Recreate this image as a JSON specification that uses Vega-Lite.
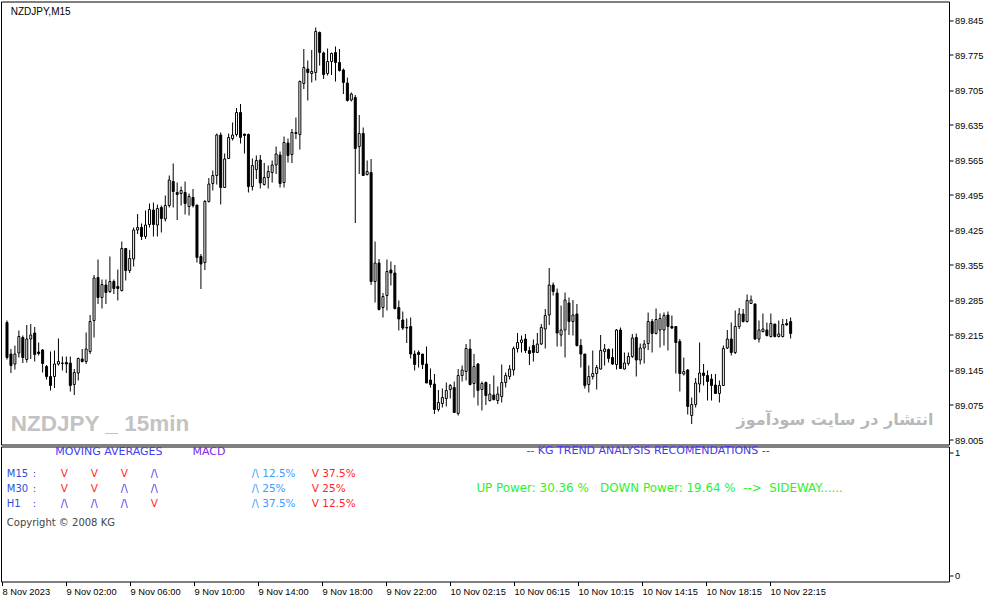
{
  "$schema": "https://vega.github.io/schema/vega-lite/v6.json",
  "background": "white",
  "padding": {"left": 0, "top": 0.5, "right": 0, "bottom": 0},
  "spacing": 2,
  "bounds": "flush",
  "config": {
    "view": {"stroke": "black", "strokeWidth": 1},
    "axis": {
      "labelFont": "Liberation Sans",
      "labelFontSize": 9.3,
      "labelColor": "black",
      "tickColor": "black",
      "tickSize": 4,
      "labelPadding": 1.5,
      "labelOverlap": false,
      "domain": false,
      "grid": false
    },
    "text": {"font": "DejaVu Sans"}
  },
  "datasets": {
    "candles": [
      {"i":0,"o":89.240,"h":89.244,"l":89.166,"c":89.170},
      {"i":1,"o":89.177,"h":89.187,"l":89.139,"c":89.154},
      {"i":2,"o":89.157,"h":89.194,"l":89.146,"c":89.177},
      {"i":3,"o":89.179,"h":89.224,"l":89.170,"c":89.212},
      {"i":4,"o":89.210,"h":89.214,"l":89.159,"c":89.170},
      {"i":5,"o":89.166,"h":89.235,"l":89.160,"c":89.207},
      {"i":6,"o":89.207,"h":89.237,"l":89.167,"c":89.215},
      {"i":7,"o":89.219,"h":89.231,"l":89.162,"c":89.176},
      {"i":8,"o":89.181,"h":89.200,"l":89.174,"c":89.178},
      {"i":9,"o":89.185,"h":89.187,"l":89.140,"c":89.158},
      {"i":10,"o":89.152,"h":89.155,"l":89.126,"c":89.132},
      {"i":11,"o":89.132,"h":89.182,"l":89.104,"c":89.114},
      {"i":12,"o":89.132,"h":89.184,"l":89.109,"c":89.157},
      {"i":13,"o":89.157,"h":89.208,"l":89.154,"c":89.162},
      {"i":14,"o":89.158,"h":89.172,"l":89.144,"c":89.159},
      {"i":15,"o":89.160,"h":89.172,"l":89.139,"c":89.157},
      {"i":16,"o":89.159,"h":89.172,"l":89.102,"c":89.114},
      {"i":17,"o":89.116,"h":89.147,"l":89.095,"c":89.140},
      {"i":18,"o":89.139,"h":89.170,"l":89.124,"c":89.168},
      {"i":19,"o":89.167,"h":89.187,"l":89.160,"c":89.162},
      {"i":20,"o":89.162,"h":89.220,"l":89.157,"c":89.187},
      {"i":21,"o":89.182,"h":89.255,"l":89.177,"c":89.242},
      {"i":22,"o":89.244,"h":89.335,"l":89.210,"c":89.329},
      {"i":23,"o":89.330,"h":89.366,"l":89.277,"c":89.290},
      {"i":24,"o":89.290,"h":89.326,"l":89.268,"c":89.316},
      {"i":25,"o":89.315,"h":89.326,"l":89.277,"c":89.300},
      {"i":26,"o":89.302,"h":89.372,"l":89.299,"c":89.322},
      {"i":27,"o":89.322,"h":89.326,"l":89.297,"c":89.308},
      {"i":28,"o":89.312,"h":89.346,"l":89.284,"c":89.308},
      {"i":29,"o":89.304,"h":89.402,"l":89.302,"c":89.388},
      {"i":30,"o":89.388,"h":89.388,"l":89.324,"c":89.344},
      {"i":31,"o":89.344,"h":89.385,"l":89.339,"c":89.368},
      {"i":32,"o":89.367,"h":89.430,"l":89.352,"c":89.425},
      {"i":33,"o":89.425,"h":89.457,"l":89.417,"c":89.430},
      {"i":34,"o":89.430,"h":89.438,"l":89.405,"c":89.412},
      {"i":35,"o":89.412,"h":89.464,"l":89.407,"c":89.435},
      {"i":36,"o":89.436,"h":89.478,"l":89.430,"c":89.466},
      {"i":37,"o":89.465,"h":89.480,"l":89.412,"c":89.436},
      {"i":38,"o":89.435,"h":89.476,"l":89.412,"c":89.468},
      {"i":39,"o":89.470,"h":89.474,"l":89.420,"c":89.448},
      {"i":40,"o":89.447,"h":89.494,"l":89.442,"c":89.474},
      {"i":41,"o":89.474,"h":89.534,"l":89.470,"c":89.525},
      {"i":42,"o":89.522,"h":89.558,"l":89.470,"c":89.502},
      {"i":43,"o":89.500,"h":89.520,"l":89.445,"c":89.496},
      {"i":44,"o":89.498,"h":89.512,"l":89.474,"c":89.504},
      {"i":45,"o":89.500,"h":89.522,"l":89.456,"c":89.478},
      {"i":46,"o":89.472,"h":89.498,"l":89.454,"c":89.492},
      {"i":47,"o":89.490,"h":89.507,"l":89.470,"c":89.474},
      {"i":48,"o":89.475,"h":89.475,"l":89.360,"c":89.370},
      {"i":49,"o":89.372,"h":89.377,"l":89.307,"c":89.357},
      {"i":50,"o":89.360,"h":89.485,"l":89.345,"c":89.482},
      {"i":51,"o":89.482,"h":89.529,"l":89.480,"c":89.517},
      {"i":52,"o":89.518,"h":89.544,"l":89.504,"c":89.534},
      {"i":53,"o":89.534,"h":89.618,"l":89.516,"c":89.615},
      {"i":54,"o":89.615,"h":89.620,"l":89.476,"c":89.510},
      {"i":55,"o":89.510,"h":89.578,"l":89.509,"c":89.567},
      {"i":56,"o":89.568,"h":89.618,"l":89.567,"c":89.610},
      {"i":57,"o":89.608,"h":89.640,"l":89.604,"c":89.615},
      {"i":58,"o":89.616,"h":89.669,"l":89.612,"c":89.660},
      {"i":59,"o":89.660,"h":89.677,"l":89.598,"c":89.610},
      {"i":60,"o":89.617,"h":89.617,"l":89.578,"c":89.614},
      {"i":61,"o":89.616,"h":89.618,"l":89.500,"c":89.512},
      {"i":62,"o":89.512,"h":89.568,"l":89.504,"c":89.554},
      {"i":63,"o":89.546,"h":89.574,"l":89.527,"c":89.564},
      {"i":64,"o":89.565,"h":89.575,"l":89.508,"c":89.519},
      {"i":65,"o":89.516,"h":89.559,"l":89.514,"c":89.530},
      {"i":66,"o":89.530,"h":89.554,"l":89.508,"c":89.542},
      {"i":67,"o":89.540,"h":89.564,"l":89.520,"c":89.555},
      {"i":68,"o":89.555,"h":89.592,"l":89.537,"c":89.577},
      {"i":69,"o":89.575,"h":89.582,"l":89.510,"c":89.518},
      {"i":70,"o":89.520,"h":89.612,"l":89.510,"c":89.600},
      {"i":71,"o":89.599,"h":89.608,"l":89.560,"c":89.574},
      {"i":72,"o":89.576,"h":89.627,"l":89.559,"c":89.620},
      {"i":73,"o":89.620,"h":89.650,"l":89.607,"c":89.618},
      {"i":74,"o":89.616,"h":89.724,"l":89.586,"c":89.722},
      {"i":75,"o":89.718,"h":89.787,"l":89.707,"c":89.750},
      {"i":76,"o":89.747,"h":89.764,"l":89.684,"c":89.740},
      {"i":77,"o":89.738,"h":89.785,"l":89.720,"c":89.742},
      {"i":78,"o":89.740,"h":89.830,"l":89.724,"c":89.822},
      {"i":79,"o":89.820,"h":89.822,"l":89.754,"c":89.780},
      {"i":80,"o":89.779,"h":89.782,"l":89.727,"c":89.736},
      {"i":81,"o":89.738,"h":89.788,"l":89.734,"c":89.762},
      {"i":82,"o":89.762,"h":89.780,"l":89.735,"c":89.778},
      {"i":83,"o":89.780,"h":89.792,"l":89.722,"c":89.760},
      {"i":84,"o":89.760,"h":89.787,"l":89.742,"c":89.744},
      {"i":85,"o":89.745,"h":89.748,"l":89.697,"c":89.720},
      {"i":86,"o":89.719,"h":89.730,"l":89.682,"c":89.684},
      {"i":87,"o":89.685,"h":89.700,"l":89.682,"c":89.697},
      {"i":88,"o":89.690,"h":89.695,"l":89.439,"c":89.588},
      {"i":89,"o":89.592,"h":89.655,"l":89.537,"c":89.618},
      {"i":90,"o":89.618,"h":89.630,"l":89.534,"c":89.534},
      {"i":91,"o":89.536,"h":89.564,"l":89.534,"c":89.542},
      {"i":92,"o":89.540,"h":89.567,"l":89.315,"c":89.322},
      {"i":93,"o":89.322,"h":89.402,"l":89.280,"c":89.359},
      {"i":94,"o":89.359,"h":89.367,"l":89.264,"c":89.266},
      {"i":95,"o":89.270,"h":89.299,"l":89.250,"c":89.292},
      {"i":96,"o":89.294,"h":89.366,"l":89.264,"c":89.342},
      {"i":97,"o":89.345,"h":89.362,"l":89.314,"c":89.339},
      {"i":98,"o":89.339,"h":89.355,"l":89.266,"c":89.268},
      {"i":99,"o":89.270,"h":89.284,"l":89.224,"c":89.247},
      {"i":100,"o":89.245,"h":89.262,"l":89.225,"c":89.229},
      {"i":101,"o":89.230,"h":89.248,"l":89.199,"c":89.229},
      {"i":102,"o":89.232,"h":89.250,"l":89.168,"c":89.177},
      {"i":103,"o":89.177,"h":89.184,"l":89.144,"c":89.156},
      {"i":104,"o":89.180,"h":89.184,"l":89.150,"c":89.176},
      {"i":105,"o":89.177,"h":89.177,"l":89.147,"c":89.156},
      {"i":106,"o":89.157,"h":89.192,"l":89.119,"c":89.119},
      {"i":107,"o":89.125,"h":89.148,"l":89.110,"c":89.116},
      {"i":108,"o":89.117,"h":89.137,"l":89.057,"c":89.066},
      {"i":109,"o":89.066,"h":89.105,"l":89.062,"c":89.080},
      {"i":110,"o":89.078,"h":89.108,"l":89.070,"c":89.090},
      {"i":111,"o":89.088,"h":89.120,"l":89.072,"c":89.104},
      {"i":112,"o":89.106,"h":89.117,"l":89.088,"c":89.114},
      {"i":113,"o":89.110,"h":89.122,"l":89.060,"c":89.060},
      {"i":114,"o":89.058,"h":89.147,"l":89.054,"c":89.134},
      {"i":115,"o":89.134,"h":89.154,"l":89.122,"c":89.145},
      {"i":116,"o":89.142,"h":89.197,"l":89.124,"c":89.188},
      {"i":117,"o":89.187,"h":89.207,"l":89.114,"c":89.116},
      {"i":118,"o":89.118,"h":89.177,"l":89.090,"c":89.152},
      {"i":119,"o":89.157,"h":89.159,"l":89.074,"c":89.104},
      {"i":120,"o":89.106,"h":89.122,"l":89.064,"c":89.118},
      {"i":121,"o":89.120,"h":89.122,"l":89.075,"c":89.094},
      {"i":122,"o":89.084,"h":89.117,"l":89.082,"c":89.097},
      {"i":123,"o":89.095,"h":89.134,"l":89.084,"c":89.086},
      {"i":124,"o":89.084,"h":89.112,"l":89.077,"c":89.097},
      {"i":125,"o":89.092,"h":89.156,"l":89.080,"c":89.120},
      {"i":126,"o":89.120,"h":89.140,"l":89.110,"c":89.134},
      {"i":127,"o":89.132,"h":89.155,"l":89.126,"c":89.147},
      {"i":128,"o":89.145,"h":89.192,"l":89.134,"c":89.188},
      {"i":129,"o":89.188,"h":89.219,"l":89.180,"c":89.200},
      {"i":130,"o":89.200,"h":89.214,"l":89.180,"c":89.205},
      {"i":131,"o":89.207,"h":89.217,"l":89.179,"c":89.184},
      {"i":132,"o":89.184,"h":89.192,"l":89.155,"c":89.178},
      {"i":133,"o":89.194,"h":89.206,"l":89.162,"c":89.180},
      {"i":134,"o":89.180,"h":89.219,"l":89.179,"c":89.197},
      {"i":135,"o":89.197,"h":89.237,"l":89.195,"c":89.230},
      {"i":136,"o":89.227,"h":89.267,"l":89.188,"c":89.254},
      {"i":137,"o":89.255,"h":89.349,"l":89.235,"c":89.315},
      {"i":138,"o":89.315,"h":89.320,"l":89.294,"c":89.302},
      {"i":139,"o":89.299,"h":89.308,"l":89.192,"c":89.219},
      {"i":140,"o":89.215,"h":89.274,"l":89.192,"c":89.225},
      {"i":141,"o":89.225,"h":89.300,"l":89.170,"c":89.285},
      {"i":142,"o":89.279,"h":89.290,"l":89.215,"c":89.242},
      {"i":143,"o":89.242,"h":89.285,"l":89.214,"c":89.255},
      {"i":144,"o":89.257,"h":89.277,"l":89.192,"c":89.194},
      {"i":145,"o":89.194,"h":89.207,"l":89.150,"c":89.177},
      {"i":146,"o":89.177,"h":89.177,"l":89.108,"c":89.114},
      {"i":147,"o":89.116,"h":89.154,"l":89.100,"c":89.132},
      {"i":148,"o":89.132,"h":89.184,"l":89.126,"c":89.138},
      {"i":149,"o":89.138,"h":89.155,"l":89.106,"c":89.150},
      {"i":150,"o":89.147,"h":89.215,"l":89.146,"c":89.184},
      {"i":151,"o":89.182,"h":89.197,"l":89.154,"c":89.187},
      {"i":152,"o":89.186,"h":89.188,"l":89.160,"c":89.168},
      {"i":153,"o":89.170,"h":89.188,"l":89.155,"c":89.157},
      {"i":154,"o":89.156,"h":89.227,"l":89.146,"c":89.225},
      {"i":155,"o":89.225,"h":89.230,"l":89.147,"c":89.148},
      {"i":156,"o":89.147,"h":89.180,"l":89.146,"c":89.159},
      {"i":157,"o":89.158,"h":89.180,"l":89.154,"c":89.172},
      {"i":158,"o":89.172,"h":89.217,"l":89.169,"c":89.209},
      {"i":159,"o":89.210,"h":89.218,"l":89.132,"c":89.165},
      {"i":160,"o":89.165,"h":89.198,"l":89.156,"c":89.189},
      {"i":161,"o":89.189,"h":89.205,"l":89.158,"c":89.197},
      {"i":162,"o":89.198,"h":89.260,"l":89.185,"c":89.242},
      {"i":163,"o":89.242,"h":89.247,"l":89.180,"c":89.218},
      {"i":164,"o":89.218,"h":89.268,"l":89.216,"c":89.246},
      {"i":165,"o":89.225,"h":89.258,"l":89.190,"c":89.248},
      {"i":166,"o":89.225,"h":89.260,"l":89.194,"c":89.254},
      {"i":167,"o":89.255,"h":89.262,"l":89.184,"c":89.232},
      {"i":168,"o":89.232,"h":89.254,"l":89.227,"c":89.229},
      {"i":169,"o":89.232,"h":89.232,"l":89.138,"c":89.200},
      {"i":170,"o":89.202,"h":89.207,"l":89.102,"c":89.138},
      {"i":171,"o":89.137,"h":89.170,"l":89.134,"c":89.142},
      {"i":172,"o":89.145,"h":89.147,"l":89.056,"c":89.072},
      {"i":173,"o":89.054,"h":89.090,"l":89.037,"c":89.076},
      {"i":174,"o":89.076,"h":89.129,"l":89.070,"c":89.119},
      {"i":175,"o":89.117,"h":89.200,"l":89.100,"c":89.139},
      {"i":176,"o":89.139,"h":89.157,"l":89.114,"c":89.134},
      {"i":177,"o":89.134,"h":89.144,"l":89.084,"c":89.122},
      {"i":178,"o":89.127,"h":89.137,"l":89.084,"c":89.114},
      {"i":179,"o":89.115,"h":89.137,"l":89.097,"c":89.098},
      {"i":180,"o":89.098,"h":89.124,"l":89.080,"c":89.114},
      {"i":181,"o":89.114,"h":89.194,"l":89.114,"c":89.188},
      {"i":182,"o":89.189,"h":89.225,"l":89.187,"c":89.207},
      {"i":183,"o":89.207,"h":89.240,"l":89.174,"c":89.180},
      {"i":184,"o":89.180,"h":89.264,"l":89.177,"c":89.232},
      {"i":185,"o":89.232,"h":89.269,"l":89.227,"c":89.257},
      {"i":186,"o":89.257,"h":89.267,"l":89.240,"c":89.242},
      {"i":187,"o":89.242,"h":89.296,"l":89.240,"c":89.284},
      {"i":188,"o":89.278,"h":89.294,"l":89.277,"c":89.285},
      {"i":189,"o":89.277,"h":89.278,"l":89.205,"c":89.207},
      {"i":190,"o":89.207,"h":89.244,"l":89.200,"c":89.225},
      {"i":191,"o":89.222,"h":89.258,"l":89.220,"c":89.227},
      {"i":192,"o":89.225,"h":89.240,"l":89.212,"c":89.214},
      {"i":193,"o":89.212,"h":89.258,"l":89.210,"c":89.238},
      {"i":194,"o":89.237,"h":89.237,"l":89.210,"c":89.212},
      {"i":195,"o":89.212,"h":89.244,"l":89.210,"c":89.217},
      {"i":196,"o":89.212,"h":89.247,"l":89.210,"c":89.236},
      {"i":197,"o":89.238,"h":89.247,"l":89.234,"c":89.235},
      {"i":198,"o":89.242,"h":89.250,"l":89.208,"c":89.218}
    ]
  },
  "vconcat": [
    {
      "width": 948,
      "height": 443,
      "layer": [
        {
          "data": {"name": "candles"},
          "mark": {"type": "rule", "color": "black", "strokeWidth": 1},
          "encoding": {
            "x": {"field": "i", "type": "quantitative", "scale": {"domain": [-0.25, 236.75], "nice": false, "zero": false}, "axis": null},
            "y": {
              "field": "l", "type": "quantitative",
              "scale": {"domain": [88.996, 89.882], "nice": false, "zero": false},
              "axis": {"orient": "right", "title": null, "format": ".3f", "labelOverlap": false, "tickCount": 20,
                "values": [89.005, 89.075, 89.145, 89.215, 89.285, 89.355, 89.425, 89.495, 89.565, 89.635, 89.705, 89.775, 89.845]}
            },
            "y2": {"field": "h"}
          }
        },
        {
          "data": {"name": "candles"},
          "mark": {"type": "bar", "width": 2, "stroke": "black", "strokeWidth": 1},
          "encoding": {
            "x": {"field": "i", "type": "quantitative", "axis": null},
            "y": {"field": "o", "type": "quantitative"},
            "y2": {"field": "c"},
            "fill": {"condition": {"test": "datum.c >= datum.o", "value": "white"}, "value": "black"}
          }
        },
        {
          "data": {"values": [{}]},
          "mark": {"type": "text", "align": "left", "baseline": "middle", "font": "Liberation Sans", "fontSize": 10, "color": "black"},
          "encoding": {"x": {"datum": 0.95}, "y": {"datum": 89.861}, "text": {"value": "NZDJPY,M15"}}
        },
        {
          "data": {"values": [{}]},
          "mark": {"type": "text", "align": "left", "baseline": "middle", "font": "Liberation Sans", "fontWeight": "bold", "fontSize": 22.5, "color": "#c3c3c3"},
          "encoding": {"x": {"datum": 0.95}, "y": {"datum": 89.037}, "text": {"value": "NZDJPY _ 15min"}}
        },
        {
          "data": {"values": [{}]},
          "mark": {"type": "text", "align": "right", "baseline": "middle", "font": "DejaVu Sans", "fontWeight": "bold", "fontSize": 16, "color": "#b8b8b8"},
          "encoding": {"x": {"datum": 234.1}, "y": {"datum": 89.045}, "text": {"value": "انتشار در سایت سودآموز"}}
        }
      ]
    },
    {
      "width": 948,
      "height": 135,
      "layer": [
        {
          "data": {"name": "candles"},
          "mark": {"type": "point", "size": 0, "opacity": 0, "strokeWidth": 0},
          "encoding": {
            "x": {
              "field": "i", "type": "quantitative",
              "scale": {"domain": [-0.25, 236.75], "nice": false, "zero": false},
              "axis": {"title": null, "labelAlign": "left", "labelFlush": false, "labelOverlap": false, "tickCount": 20,
                "values": [0, 16, 32, 48, 64, 80, 96, 112, 128, 144, 160, 176, 192],
                "labelExpr": "{'0':'8 Nov 2023','16':'9 Nov 02:00','32':'9 Nov 06:00','48':'9 Nov 10:00','64':'9 Nov 14:00','80':'9 Nov 18:00','96':'9 Nov 22:00','112':'10 Nov 02:15','128':'10 Nov 06:15','144':'10 Nov 10:15','160':'10 Nov 14:15','176':'10 Nov 18:15','192':'10 Nov 22:15'}[datum.value]"}
            },
            "y": {
              "datum": 0, "type": "quantitative",
              "scale": {"domain": [-0.0444, 1.0444], "nice": false, "zero": false},
              "axis": {"orient": "right", "title": null, "values": [0, 1], "format": "d"}
            }
          }
        },
        {
          "data": {"values": [{}]},
          "mark": {"type": "text", "align": "left", "baseline": "middle", "fontSize": 11, "color": "#4141f0"},
          "encoding": {"x": {"datum": 13.3}, "y": {"datum": 1.0}, "text": {"value": "MOVING AVERAGES"}}
        },
        {
          "data": {"values": [{}]},
          "mark": {"type": "text", "align": "left", "baseline": "middle", "fontSize": 11, "color": "#7a2ae6"},
          "encoding": {"x": {"datum": 47.6}, "y": {"datum": 1.0}, "text": {"value": "MACD"}}
        },
        {
          "data": {"values": [{}]},
          "mark": {"type": "text", "align": "left", "baseline": "middle", "fontSize": 11, "color": "#4a3ae6"},
          "encoding": {"x": {"datum": 131.1}, "y": {"datum": 1.005}, "text": {"value": "-- KG TREND ANALYSIS RECOMENDATIONS --"}}
        },
        {
          "data": {"values": [{}]},
          "mark": {"type": "text", "align": "left", "baseline": "alphabetic", "fontSize": 10, "lineHeight": 15, "color": "#2d4fd6"},
          "encoding": {"x": {"datum": 1.2}, "y": {"datum": 0.8}, "text": {"value": ["M15", "M30", "H1"]}}
        },
        {
          "data": {"values": [{}]},
          "mark": {"type": "text", "align": "left", "baseline": "alphabetic", "fontSize": 10, "lineHeight": 15, "color": "#2d4fd6"},
          "encoding": {"x": {"datum": 7.7}, "y": {"datum": 0.8}, "text": {"value": [":", ":", ":"]}}
        },
        {"data": {"values": [{}]}, "mark": {"type": "text", "align": "left", "baseline": "alphabetic", "fontSize": 10.5, "color": "#ff2b2b"},
         "encoding": {"x": {"datum": 14.7}, "y": {"datum": 0.8}, "text": {"value": "V"}}},
        {"data": {"values": [{}]}, "mark": {"type": "text", "align": "left", "baseline": "alphabetic", "fontSize": 10.5, "color": "#ff2b2b"},
         "encoding": {"x": {"datum": 22.2}, "y": {"datum": 0.8}, "text": {"value": "V"}}},
        {"data": {"values": [{}]}, "mark": {"type": "text", "align": "left", "baseline": "alphabetic", "fontSize": 10.5, "color": "#ff2b2b"},
         "encoding": {"x": {"datum": 29.7}, "y": {"datum": 0.8}, "text": {"value": "V"}}},
        {"data": {"values": [{}]}, "mark": {"type": "text", "align": "left", "baseline": "alphabetic", "fontSize": 10.5, "color": "#4a3cf0"},
         "encoding": {"x": {"datum": 37.2}, "y": {"datum": 0.8}, "text": {"value": "/\\"}}},
        {"data": {"values": [{}]}, "mark": {"type": "text", "align": "left", "baseline": "alphabetic", "fontSize": 10.5, "color": "#ff2b2b"},
         "encoding": {"x": {"datum": 14.7}, "y": {"datum": 0.679}, "text": {"value": "V"}}},
        {"data": {"values": [{}]}, "mark": {"type": "text", "align": "left", "baseline": "alphabetic", "fontSize": 10.5, "color": "#ff2b2b"},
         "encoding": {"x": {"datum": 22.2}, "y": {"datum": 0.679}, "text": {"value": "V"}}},
        {"data": {"values": [{}]}, "mark": {"type": "text", "align": "left", "baseline": "alphabetic", "fontSize": 10.5, "color": "#4a3cf0"},
         "encoding": {"x": {"datum": 29.7}, "y": {"datum": 0.679}, "text": {"value": "/\\"}}},
        {"data": {"values": [{}]}, "mark": {"type": "text", "align": "left", "baseline": "alphabetic", "fontSize": 10.5, "color": "#4a3cf0"},
         "encoding": {"x": {"datum": 37.2}, "y": {"datum": 0.679}, "text": {"value": "/\\"}}},
        {"data": {"values": [{}]}, "mark": {"type": "text", "align": "left", "baseline": "alphabetic", "fontSize": 10.5, "color": "#4a3cf0"},
         "encoding": {"x": {"datum": 14.7}, "y": {"datum": 0.558}, "text": {"value": "/\\"}}},
        {"data": {"values": [{}]}, "mark": {"type": "text", "align": "left", "baseline": "alphabetic", "fontSize": 10.5, "color": "#4a3cf0"},
         "encoding": {"x": {"datum": 22.2}, "y": {"datum": 0.558}, "text": {"value": "/\\"}}},
        {"data": {"values": [{}]}, "mark": {"type": "text", "align": "left", "baseline": "alphabetic", "fontSize": 10.5, "color": "#4a3cf0"},
         "encoding": {"x": {"datum": 29.7}, "y": {"datum": 0.558}, "text": {"value": "/\\"}}},
        {"data": {"values": [{}]}, "mark": {"type": "text", "align": "left", "baseline": "alphabetic", "fontSize": 10.5, "color": "#ff2b2b"},
         "encoding": {"x": {"datum": 37.2}, "y": {"datum": 0.558}, "text": {"value": "V"}}},
        {
          "data": {"values": [{}]},
          "mark": {"type": "text", "align": "left", "baseline": "alphabetic", "fontSize": 10.5, "lineHeight": 15, "color": "#3d9bff"},
          "encoding": {"x": {"datum": 62.45}, "y": {"datum": 0.8}, "text": {"value": ["/\\ 12.5%", "/\\ 25%", "/\\ 37.5%"]}}
        },
        {
          "data": {"values": [{}]},
          "mark": {"type": "text", "align": "left", "baseline": "alphabetic", "fontSize": 10.5, "lineHeight": 15, "color": "#ff1f1f"},
          "encoding": {"x": {"datum": 77.45}, "y": {"datum": 0.8}, "text": {"value": ["V 37.5%", "V 25%", "V 12.5%"]}}
        },
        {
          "data": {"values": [{}]},
          "mark": {"type": "text", "align": "left", "baseline": "middle", "fontSize": 11.9, "color": "#2ef02e"},
          "encoding": {"x": {"datum": 118.6}, "y": {"datum": 0.71}, "text": {"value": "UP Power: 30.36 %\u00a0\u00a0 DOWN Power: 19.64 %\u00a0 -->\u00a0 SIDEWAY......"}}
        },
        {
          "data": {"values": [{}]},
          "mark": {"type": "text", "align": "left", "baseline": "middle", "fontSize": 10, "color": "#444444"},
          "encoding": {"x": {"datum": 1.2}, "y": {"datum": 0.431}, "text": {"value": "Copyright © 2008 KG"}}
        }
      ]
    }
  ]
}
